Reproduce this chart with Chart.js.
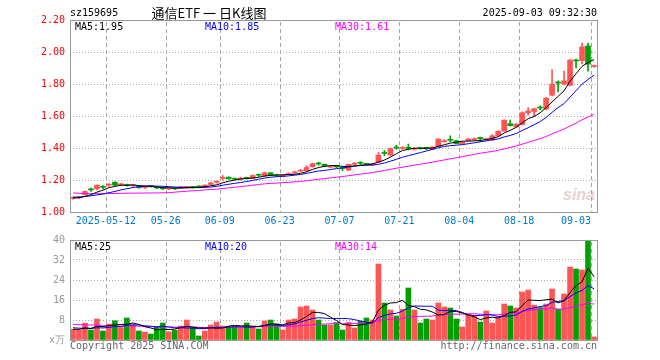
<!DOCTYPE html>
<html>
<head>
<meta charset="utf-8">
<script src="https://cdn.jsdelivr.net/npm/chart.js"></script>
<style>
  body { margin: 0; width: 660px; height: 360px; background: #fff; position: relative; overflow: hidden; }
  canvas { position: absolute; left: 0; z-index: 1; }
  .t { position: absolute; font: 10px/12px "DejaVu Sans Mono", monospace; white-space: pre; z-index: 2; }
</style>
</head>
<body>
<div class="t" style="left:70px;top:7px;">sz159695</div>
<div class="t" style="left:109px;top:5px;width:200px;text-align:center;font:13px/16px 'Noto Sans CJK SC';">通信ETF 一 日K线图</div>
<div class="t" style="right:63px;top:7px;">2025-09-03 09:32:30</div>
<div class="t" style="left:75px;top:21px;color:#000;">MA5:1.95</div>
<div class="t" style="left:205px;top:21px;color:#0000ff;">MA10:1.85</div>
<div class="t" style="left:335px;top:21px;color:#ff00ff;">MA30:1.61</div>
<div class="t" style="left:75px;top:241px;color:#000;">MA5:25</div>
<div class="t" style="left:205px;top:241px;color:#0000ff;">MA10:20</div>
<div class="t" style="left:335px;top:241px;color:#ff00ff;">MA30:14</div>
<div class="t" style="left:70px;top:340px;color:#666;">Copyright 2025 SINA.COM</div>
<div class="t" style="right:63px;top:340px;color:#666;">http://finance.sina.com.cn</div>
<div style="position:absolute;left:563px;top:186px;font:italic bold 16px 'Liberation Sans';color:#e6d2d2;z-index:0;">sina</div>

<canvas id="kline" width="660" height="228" style="top:0;"></canvas>
<canvas id="vol" width="660" height="132" style="top:228px;"></canvas>

<script>
// trading days shown
const dates = [
  '2025-04-29','2025-04-30','2025-05-06','2025-05-07','2025-05-08','2025-05-09',
  '2025-05-12','2025-05-13','2025-05-14','2025-05-15','2025-05-16',
  '2025-05-19','2025-05-20','2025-05-21','2025-05-22','2025-05-23',
  '2025-05-26','2025-05-27','2025-05-28','2025-05-29','2025-05-30',
  '2025-06-03','2025-06-04','2025-06-05','2025-06-06',
  '2025-06-09','2025-06-10','2025-06-11','2025-06-12','2025-06-13',
  '2025-06-16','2025-06-17','2025-06-18','2025-06-19','2025-06-20',
  '2025-06-23','2025-06-24','2025-06-25','2025-06-26','2025-06-27',
  '2025-06-30','2025-07-01','2025-07-02','2025-07-03','2025-07-04',
  '2025-07-07','2025-07-08','2025-07-09','2025-07-10','2025-07-11',
  '2025-07-14','2025-07-15','2025-07-16','2025-07-17','2025-07-18',
  '2025-07-21','2025-07-22','2025-07-23','2025-07-24','2025-07-25',
  '2025-07-28','2025-07-29','2025-07-30','2025-07-31','2025-08-01',
  '2025-08-04','2025-08-05','2025-08-06','2025-08-07','2025-08-08',
  '2025-08-11','2025-08-12','2025-08-13','2025-08-14','2025-08-15',
  '2025-08-18','2025-08-19','2025-08-20','2025-08-21','2025-08-22',
  '2025-08-25','2025-08-26','2025-08-27','2025-08-28','2025-08-29',
  '2025-09-01','2025-09-02','2025-09-03'
];
const shownDates = ['2025-05-12','2025-05-26','2025-06-09','2025-06-23','2025-07-07',
  '2025-07-21','2025-08-04','2025-08-18','2025-09-03'];

const opens = [
  1.085,1.088,1.108,1.142,1.145,1.158,1.168,1.186,1.170,1.172,
  1.164,1.158,1.152,1.164,1.154,1.150,1.144,1.148,1.150,1.154,
  1.158,1.160,1.160,1.172,1.186,1.210,1.218,1.210,1.206,1.212,
  1.210,1.232,1.226,1.245,1.232,1.226,1.234,1.244,1.255,1.258,
  1.283,1.302,1.298,1.280,1.286,1.276,1.262,1.298,1.306,1.300,
  1.296,1.312,1.370,1.356,1.404,1.398,1.404,1.392,1.400,1.400,
  1.392,1.410,1.440,1.452,1.445,1.428,1.446,1.452,1.466,1.452,
  1.450,1.476,1.506,1.552,1.532,1.546,1.620,1.628,1.652,1.644,
  1.730,1.812,1.800,1.792,1.946,1.946,2.038,1.910
];
const highs = [
  1.095,1.098,1.132,1.150,1.170,1.165,1.178,1.188,1.178,1.175,
  1.170,1.162,1.160,1.166,1.158,1.152,1.150,1.152,1.160,1.160,
  1.160,1.164,1.170,1.185,1.195,1.228,1.220,1.212,1.218,1.218,
  1.232,1.236,1.250,1.248,1.236,1.234,1.245,1.256,1.266,1.290,
  1.305,1.312,1.300,1.290,1.292,1.282,1.300,1.310,1.315,1.304,
  1.302,1.372,1.385,1.400,1.418,1.408,1.425,1.402,1.404,1.404,
  1.408,1.458,1.452,1.476,1.448,1.440,1.460,1.462,1.468,1.460,
  1.484,1.508,1.576,1.574,1.552,1.626,1.652,1.648,1.664,1.716,
  1.890,1.820,1.880,1.952,1.956,2.056,2.056,1.918
];
const lows = [
  1.080,1.085,1.105,1.128,1.140,1.145,1.160,1.165,1.166,1.162,
  1.160,1.148,1.148,1.155,1.146,1.140,1.140,1.140,1.148,1.150,
  1.150,1.152,1.156,1.170,1.180,1.200,1.205,1.200,1.200,1.205,
  1.208,1.222,1.222,1.228,1.222,1.220,1.230,1.240,1.250,1.255,
  1.280,1.292,1.282,1.276,1.276,1.258,1.258,1.292,1.296,1.294,
  1.292,1.308,1.352,1.352,1.392,1.392,1.388,1.388,1.392,1.390,
  1.390,1.408,1.436,1.438,1.426,1.424,1.444,1.448,1.440,1.450,
  1.446,1.474,1.504,1.536,1.530,1.544,1.605,1.600,1.638,1.640,
  1.726,1.750,1.795,1.790,1.900,1.925,1.880,1.904
];
const closes = [
  1.092,1.094,1.128,1.138,1.168,1.154,1.172,1.168,1.175,1.165,
  1.166,1.152,1.156,1.158,1.150,1.146,1.148,1.145,1.158,1.157,
  1.154,1.156,1.168,1.182,1.190,1.215,1.207,1.205,1.212,1.210,
  1.228,1.230,1.245,1.230,1.226,1.230,1.240,1.250,1.260,1.278,
  1.302,1.300,1.286,1.284,1.282,1.272,1.298,1.302,1.304,1.298,
  1.300,1.356,1.366,1.396,1.400,1.402,1.398,1.398,1.396,1.398,
  1.406,1.456,1.445,1.448,1.428,1.436,1.456,1.456,1.458,1.456,
  1.476,1.505,1.574,1.540,1.548,1.620,1.632,1.646,1.650,1.712,
  1.800,1.806,1.820,1.950,1.944,2.032,1.924,1.912
];
// volume, x万
const volumes = [
  4.3,4.0,6.7,4.0,8.4,3.6,6.4,7.7,5.0,8.8,
  6.0,3.6,3.2,2.4,5.3,6.8,3.3,3.9,5.6,8.0,
  5.0,1.6,3.6,6.0,7.2,5.6,5.3,5.3,5.0,6.8,
  5.3,4.4,7.6,8.0,6.4,4.0,8.0,8.4,13.2,13.6,
  12.0,8.0,6.0,6.0,7.0,4.0,7.0,4.8,7.5,8.8,
  8.0,30.4,14.8,12.0,9.6,12.3,20.8,12.0,6.8,8.4,
  8.0,14.8,13.2,12.8,8.4,5.2,10.4,9.6,7.2,11.6,
  6.8,8.8,14.4,13.6,12.8,19.2,20.0,13.9,13.0,14.4,
  20.4,12.4,18.4,29.2,28.4,28.0,39.6,1.2
];
// sessions before the window, only feed the moving averages
const prevCloses = [1.17,1.16,1.18,1.17,1.15,1.16,1.14,1.15,1.13,1.16,1.15,1.14,1.15,1.14,1.13,1.12,
  1.05,1.06,1.07,1.08,1.09,1.08,1.10,1.11,1.10,1.09,1.09,1.08,1.09];
const prevVolumes = [7.5,8.2,6.8,9.5,12.0,10.5,7.0,6.0,5.5,6.2,5.8,6.5,5.0,7.2,6.0,5.5,6.8,5.2,6.0,5.0,
  5.8,6.5,5.5,5.2,4.5,4.2,4.0,4.8,4.2];

const priceTicks = [1.0, 1.2, 1.4, 1.6, 1.8, 2.0, 2.2];
const volTicks = [0, 8, 16, 24, 32, 40];

const upColor = '#ff5555';
const downColor = '#00a000';
const monoFont = { family: 'DejaVu Sans Mono', size: 10 };

function movingAvg(series, prev, n) {
  const all = prev.concat(series);
  return series.map((_, i) => {
    const end = prev.length + i + 1;
    const part = all.slice(end - n, end);
    return part.reduce((a, b) => a + b, 0) / part.length;
  });
}

const colors = closes.map((c, i) => c >= opens[i] ? upColor : downColor);

// dashed day lines (slid under what is drawn already) and the grey frame
const frame = {
  id: 'frame',
  afterDraw(chart) {
    const ctx = chart.ctx;
    const area = chart.chartArea;
    const xs = chart.scales.x;
    const half = (xs.getPixelForValue(1) - xs.getPixelForValue(0)) / 2;
    ctx.save();
    ctx.globalCompositeOperation = 'destination-over';
    ctx.fillStyle = '#a6a6a6';
    for (const d of shownDates) {
      const px = Math.round(xs.getPixelForValue(dates.indexOf(d)) - half);
      for (let py = Math.round(area.top) + 2; py < area.bottom; py += 7) {
        ctx.fillRect(px, py, 1, Math.min(4, area.bottom - py));
      }
    }
    ctx.globalCompositeOperation = 'source-over';
    ctx.strokeStyle = '#999';
    ctx.lineWidth = 1;
    ctx.strokeRect(area.left + 0.5, area.top + 0.5, area.right - area.left, area.bottom - area.top);
    ctx.restore();
  }
};

const lineSet = (data, color) => ({
  type: 'line', data: data, borderColor: color, borderWidth: 1,
  pointRadius: 0, tension: 0, order: 0
});

new Chart(document.getElementById('kline'), {
  type: 'bar',
  data: {
    labels: dates,
    datasets: [
      lineSet(movingAvg(closes, prevCloses, 5), '#000000'),
      lineSet(movingAvg(closes, prevCloses, 10), '#0000ff'),
      lineSet(movingAvg(closes, prevCloses, 30), '#ff00ff'),
      {
        data: opens.map((o, i) => [o, closes[i]]),
        backgroundColor: colors, barThickness: 5, minBarLength: 1,
        grouped: false, order: 1
      },
      {
        data: lows.map((l, i) => [l, highs[i]]),
        backgroundColor: colors, barThickness: 1,
        grouped: false, order: 2
      }
    ]
  },
  options: {
    responsive: false,
    animation: false,
    devicePixelRatio: 1,
    events: [],
    layout: { padding: { left: 0, right: 63, top: 20, bottom: 0 } },
    plugins: { legend: { display: false }, tooltip: { enabled: false } },
    scales: {
      x: {
        offset: true,
        grid: { display: false, drawTicks: false },
        border: { display: false },
        ticks: {
          autoSkip: false, maxRotation: 0, minRotation: 0,
          padding: 3, labelOffset: -3,
          color: '#0078d7', font: monoFont,
          callback: (v, i) => {
            const d = dates[i];
            const j = shownDates.indexOf(d);
            if (j < 0) return '';
            if (j === 0) return d;
            return i === dates.length - 1 ? d.slice(5) + '     ' : d.slice(5);
          }
        },
        afterFit: s => { s.height = 16; s.paddingLeft = 0; s.paddingRight = 0; }
      },
      y: {
        min: priceTicks[0],
        max: priceTicks[priceTicks.length - 1],
        afterBuildTicks: s => { s.ticks = priceTicks.map(v => ({ value: v })); },
        grid: {
          drawTicks: false,
          color: ctx => ctx.tick && ctx.tick.value > 1.01 && ctx.tick.value < 2.19 ? '#aaa' : 'transparent'
        },
        border: { display: false, dash: [1, 2] },
        ticks: {
          padding: 5, color: '#ff0000', font: monoFont,
          callback: v => Number(v).toFixed(2)
        },
        afterFit: s => { s.width = 70; }
      }
    }
  },
  plugins: [frame]
});

new Chart(document.getElementById('vol'), {
  type: 'bar',
  data: {
    labels: dates,
    datasets: [
      lineSet(movingAvg(volumes, prevVolumes, 5), '#000000'),
      lineSet(movingAvg(volumes, prevVolumes, 10), '#0000ff'),
      lineSet(movingAvg(volumes, prevVolumes, 30), '#ff00ff'),
      { data: volumes, backgroundColor: colors, barThickness: 5, grouped: false, order: 1 }
    ]
  },
  options: {
    responsive: false,
    animation: false,
    devicePixelRatio: 1,
    events: [],
    layout: { padding: { left: 0, right: 63, top: 12, bottom: 0 } },
    plugins: { legend: { display: false }, tooltip: { enabled: false } },
    scales: {
      x: {
        offset: true,
        grid: { display: false, drawTicks: false },
        border: { display: false },
        ticks: { display: false, autoSkip: false },
        afterFit: s => { s.height = 20; s.paddingLeft = 0; s.paddingRight = 0; }
      },
      y: {
        min: volTicks[0],
        max: volTicks[volTicks.length - 1],
        afterBuildTicks: s => { s.ticks = volTicks.map(v => ({ value: v })); },
        grid: {
          drawTicks: false,
          color: ctx => ctx.tick && ctx.tick.value > 0 && ctx.tick.value < 40 ? '#aaa' : 'transparent'
        },
        border: { display: false, dash: [1, 2] },
        ticks: {
          padding: 5, color: '#999', font: monoFont,
          callback: v => v === 0 ? 'x万' : String(v)
        },
        afterFit: s => { s.width = 70; }
      }
    }
  },
  plugins: [frame]
});
</script>
</body>
</html>
